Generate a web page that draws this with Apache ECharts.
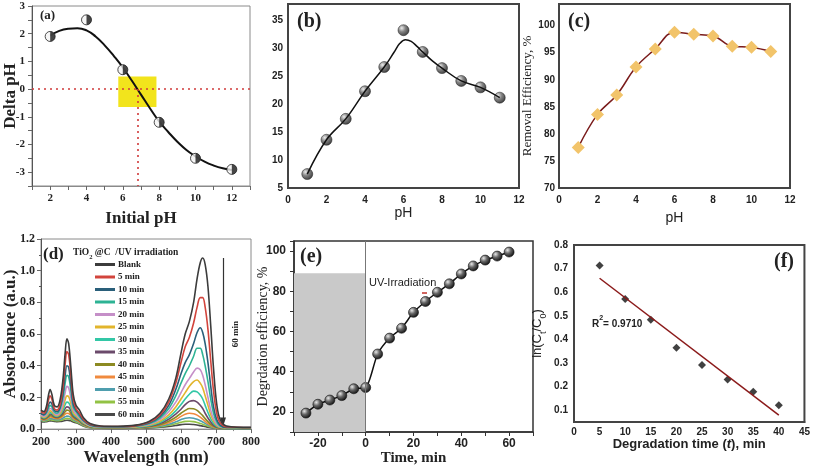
<!DOCTYPE html>
<html><head><meta charset="utf-8">
<script src="https://cdn.jsdelivr.net/npm/echarts@6/dist/echarts.min.js"></script>
<style>html,body{margin:0;padding:0;background:#fff}#c{width:813px;height:467px}</style>
</head><body><div id="c"></div>
<script>
// ---------- Panel (a): Delta pH vs initial pH ----------
const aX = [2, 4, 6, 8, 10, 12];
const aY = [1.9, 2.5, 0.7, -1.2, -2.5, -2.9];
const aFitX = [2, 2.5, 3, 3.5, 4, 4.5, 5, 5.5, 6, 6.5, 7, 7.5, 8, 8.5, 9, 9.5, 10, 10.5, 11, 11.5, 12];
const aFitY = [1.93, 2.1, 2.18, 2.2, 2.12, 1.9, 1.58, 1.2, 0.78, 0.3, -0.2, -0.7, -1.17, -1.55, -1.9, -2.2, -2.43, -2.62, -2.76, -2.86, -2.92];
const aPzc = 6.8;
const aBox = [5.75, 0.45, 7.85, -0.65];
const aYTicks = [-3, -2, -1, 0, 1, 2, 3];
const aXTicks = [2, 4, 6, 8, 10, 12];

// ---------- Panel (b) ----------
const bX = [1, 2, 3, 4, 5, 6, 7, 8, 9, 10, 11];
const bY = [7.5, 13.65, 17.4, 22.35, 26.7, 33.3, 29.4, 26.5, 24.2, 23.05, 21.2];
const bFitX = [1, 2, 3, 4, 5, 5.5, 5.8, 6.1, 6.4, 6.7, 7, 7.5, 8, 9, 10, 11];
const bFitY = [7.5, 13.65, 17.4, 22.35, 26.7, 29.3, 30.9, 31.6, 31.3, 30.4, 29.4, 27.8, 26.5, 24.2, 23.05, 21.2];
const bYTicks = [5, 10, 15, 20, 25, 30, 35];

// ---------- Panel (c) ----------
const cX = [1, 2, 3, 4, 5, 6, 7, 8, 9, 10, 11];
const cY = [77.5, 83.6, 87.2, 92.35, 95.7, 98.8, 98.4, 98.1, 96.2, 96.0, 95.2];
const cYTicks = [70, 75, 80, 85, 90, 95, 100];

// ---------- Panel (d): UV-vis spectra ----------
const dWl = [200, 208, 215, 221, 226, 231, 238, 246, 255, 263, 269, 274, 279, 285, 292, 300, 310, 322, 340, 370, 420, 470, 510, 540, 565, 585, 600, 612, 624, 636, 646, 655, 662, 669, 677, 685, 693, 702, 712, 730, 800];
const dNames = ['Blank', '5 min', '10 min', '15 min', '20 min', '25 min', '30 min', '35 min', '40 min', '45 min', '50 min', '55 min', '60 min'];
const dBlank = [0.12, 0.11, 0.14, 0.21, 0.25, 0.22, 0.15, 0.14, 0.19, 0.32, 0.48, 0.57, 0.54, 0.4, 0.22, 0.15, 0.12, 0.07, 0.035, 0.02, 0.018, 0.025, 0.05, 0.1, 0.19, 0.32, 0.48, 0.6, 0.68, 0.8, 0.95, 1.05, 1.08, 1.04, 0.9, 0.65, 0.38, 0.16, 0.06, 0.02, 0.01];
const d5 = [0.11, 0.1, 0.12, 0.18, 0.21, 0.19, 0.13, 0.12, 0.16, 0.27, 0.41, 0.49, 0.47, 0.35, 0.19, 0.13, 0.1, 0.06, 0.03, 0.018, 0.016, 0.022, 0.045, 0.09, 0.17, 0.29, 0.42, 0.52, 0.58, 0.67, 0.77, 0.83, 0.83, 0.77, 0.63, 0.43, 0.24, 0.1, 0.04, 0.015, 0.01];
const d10 = [0.1, 0.09, 0.11, 0.15, 0.17, 0.16, 0.12, 0.11, 0.14, 0.23, 0.34, 0.4, 0.39, 0.29, 0.16, 0.12, 0.09, 0.055, 0.028, 0.016, 0.015, 0.02, 0.04, 0.08, 0.15, 0.25, 0.35, 0.42, 0.47, 0.54, 0.61, 0.64, 0.61, 0.54, 0.42, 0.27, 0.14, 0.06, 0.025, 0.01, 0.01];
const d15 = [0.1, 0.09, 0.1, 0.13, 0.15, 0.14, 0.11, 0.1, 0.13, 0.2, 0.29, 0.34, 0.33, 0.25, 0.14, 0.11, 0.08, 0.05, 0.025, 0.015, 0.014, 0.018, 0.035, 0.07, 0.13, 0.21, 0.29, 0.35, 0.4, 0.46, 0.51, 0.51, 0.47, 0.4, 0.3, 0.19, 0.1, 0.045, 0.02, 0.01, 0.01];
const d20 = [0.09, 0.08, 0.09, 0.115, 0.13, 0.125, 0.1, 0.09, 0.11, 0.16, 0.23, 0.27, 0.26, 0.2, 0.12, 0.095, 0.07, 0.045, 0.022, 0.013, 0.012, 0.016, 0.03, 0.06, 0.11, 0.17, 0.23, 0.28, 0.32, 0.36, 0.385, 0.375, 0.34, 0.28, 0.2, 0.12, 0.065, 0.03, 0.015, 0.01, 0.01];
const d25 = [0.085, 0.075, 0.082, 0.1, 0.115, 0.11, 0.092, 0.085, 0.1, 0.14, 0.185, 0.21, 0.205, 0.165, 0.105, 0.085, 0.065, 0.04, 0.02, 0.012, 0.011, 0.014, 0.026, 0.05, 0.09, 0.14, 0.19, 0.23, 0.27, 0.3, 0.31, 0.29, 0.26, 0.21, 0.15, 0.09, 0.05, 0.025, 0.012, 0.008, 0.008];
const d30 = [0.08, 0.07, 0.077, 0.092, 0.105, 0.1, 0.086, 0.08, 0.092, 0.12, 0.155, 0.17, 0.167, 0.14, 0.095, 0.078, 0.06, 0.036, 0.018, 0.011, 0.01, 0.012, 0.022, 0.042, 0.075, 0.115, 0.155, 0.19, 0.22, 0.24, 0.235, 0.215, 0.19, 0.15, 0.105, 0.065, 0.035, 0.018, 0.01, 0.007, 0.007];
const d35 = [0.075, 0.066, 0.072, 0.085, 0.095, 0.092, 0.08, 0.075, 0.085, 0.105, 0.13, 0.14, 0.138, 0.118, 0.085, 0.07, 0.055, 0.033, 0.016, 0.01, 0.009, 0.011, 0.019, 0.035, 0.062, 0.095, 0.125, 0.155, 0.175, 0.18, 0.17, 0.15, 0.13, 0.1, 0.07, 0.045, 0.025, 0.013, 0.008, 0.006, 0.006];
const d40 = [0.07, 0.062, 0.067, 0.077, 0.085, 0.083, 0.074, 0.07, 0.077, 0.093, 0.11, 0.12, 0.118, 0.1, 0.076, 0.063, 0.05, 0.03, 0.015, 0.009, 0.008, 0.01, 0.016, 0.028, 0.05, 0.075, 0.1, 0.118, 0.13, 0.128, 0.118, 0.1, 0.085, 0.066, 0.047, 0.03, 0.018, 0.01, 0.007, 0.005, 0.005];
const d45 = [0.065, 0.058, 0.062, 0.07, 0.076, 0.075, 0.068, 0.065, 0.07, 0.082, 0.094, 0.1, 0.099, 0.088, 0.068, 0.057, 0.045, 0.027, 0.013, 0.008, 0.007, 0.009, 0.014, 0.024, 0.04, 0.06, 0.08, 0.094, 0.1, 0.097, 0.088, 0.075, 0.063, 0.049, 0.035, 0.023, 0.014, 0.008, 0.006, 0.005, 0.005];
const d50 = [0.06, 0.053, 0.057, 0.063, 0.067, 0.066, 0.061, 0.059, 0.062, 0.07, 0.078, 0.082, 0.081, 0.074, 0.06, 0.051, 0.04, 0.024, 0.012, 0.007, 0.006, 0.008, 0.012, 0.019, 0.031, 0.046, 0.06, 0.069, 0.072, 0.069, 0.062, 0.053, 0.045, 0.036, 0.027, 0.018, 0.011, 0.007, 0.005, 0.004, 0.004];
const d55 = [0.055, 0.049, 0.052, 0.056, 0.059, 0.058, 0.055, 0.053, 0.055, 0.06, 0.065, 0.068, 0.067, 0.062, 0.052, 0.045, 0.035, 0.021, 0.01, 0.006, 0.005, 0.007, 0.01, 0.015, 0.024, 0.034, 0.043, 0.049, 0.05, 0.047, 0.042, 0.036, 0.031, 0.025, 0.019, 0.013, 0.009, 0.006, 0.004, 0.004, 0.004];
const d60 = [0.05, 0.045, 0.047, 0.05, 0.052, 0.051, 0.049, 0.047, 0.048, 0.051, 0.054, 0.056, 0.055, 0.052, 0.045, 0.04, 0.031, 0.018, 0.009, 0.005, 0.004, 0.006, 0.008, 0.012, 0.017, 0.023, 0.028, 0.031, 0.031, 0.029, 0.026, 0.022, 0.019, 0.016, 0.012, 0.009, 0.007, 0.005, 0.004, 0.003, 0.003];
const dSpectra = [dBlank, d5, d10, d15, d20, d25, d30, d35, d40, d45, d50, d55, d60];
const dColors = ['#3c3c3c', '#d2443c', '#2a5f7a', '#2db394', '#c58fc8', '#e2b52c', '#33c7a6', '#6b4a6b', '#8c8a22', '#f08a3e', '#4f9eae', '#92c244', '#4a4a4a'];
const dYTicks = [0, 0.2, 0.4, 0.6, 0.8, 1.0, 1.2];

// ---------- Panel (e): degradation efficiency vs time ----------
const eX = [-25, -20, -15, -10, -5, 0, 5, 10, 15, 20, 25, 30, 35, 40, 45, 50, 55, 60];
const eY = [19.4, 23.8, 25.9, 28.1, 31.5, 32.1, 48.8, 56.7, 61.6, 69.5, 74.9, 79.5, 83.7, 88.6, 92.6, 95.5, 97.5, 99.5];
const eXTicks = [-20, 0, 20, 40, 60];
const eYTicks = [20, 40, 60, 80, 100];

// ---------- Panel (f): kinetics ----------
const fX = [5, 10, 15, 20, 25, 30, 35, 40];
const fY = [0.713, 0.571, 0.483, 0.365, 0.292, 0.23, 0.178, 0.121];
const fFit = [[5, 0.659], [40, 0.079]];
const fYTicks = [0.1, 0.2, 0.3, 0.4, 0.5, 0.6, 0.7, 0.8];

const SERIF = 'Liberation Serif';
const SANS = 'Liberation Sans';
const zip = (xs, ys) => xs.map((x, i) => [x, ys[i]]);
const sphere = {type: 'radial', x: 0.35, y: 0.32, r: 0.7, colorStops: [{offset: 0, color: '#e8e8e8'}, {offset: 0.45, color: '#666'}, {offset: 1, color: '#111'}]};

function frame(c, w) { return {show: true, borderColor: c, borderWidth: w, backgroundColor: 'transparent'}; }

const grids = [
  Object.assign({left: 32, top: 6, width: 218, height: 180}, frame('#8a8a8a', 1)),
  Object.assign({left: 288, top: 4, width: 231, height: 184}, frame('#444', 2)),
  Object.assign({left: 559, top: 4, width: 231, height: 184}, frame('#444', 2)),
  Object.assign({left: 41, top: 239, width: 210, height: 191}, frame('#8a8a8a', 1)),
  Object.assign({left: 294, top: 241, width: 239, height: 191}, frame('#333', 1.5)),
  Object.assign({left: 574, top: 245, width: 232, height: 177}, frame('#444', 2))
];

function axisBase(grid, color, lw) {
  return {gridIndex: grid, splitLine: {show: false}, axisLine: {show: true, onZero: false, lineStyle: {color: color, width: lw}}};
}

const lblOpts = {hideOverlap: false, showMinLabel: true, showMaxLabel: true};
const serifLbl = (s) => Object.assign({fontFamily: SERIF, fontWeight: 'bold', fontSize: s, color: '#222'}, lblOpts);
const sansLbl = (s) => Object.assign({fontFamily: SANS, fontWeight: 'bold', fontSize: s, color: '#222'}, lblOpts);
const nameStyle = (fam, w, s) => ({fontFamily: fam, fontWeight: w, fontSize: s, color: '#222'});

const xAxes = [
  Object.assign(axisBase(0, '#8a8a8a', 1), {type: 'value', min: 1, max: 13, interval: 1,
    axisTick: {show: true, length: 4, lineStyle: {color: '#666'}},
    axisLabel: Object.assign(serifLbl(11), {margin: 7, customValues: aXTicks}),
    name: 'Initial pH', nameLocation: 'middle', nameGap: 24, nameTextStyle: nameStyle(SERIF, 'bold', 17)}),
  Object.assign(axisBase(1, '#444', 2), {type: 'value', min: 0, max: 12, interval: 2,
    axisTick: {show: false}, axisLabel: Object.assign(sansLbl(10), {margin: 7}),
    name: 'pH', nameLocation: 'middle', nameGap: 18, nameTextStyle: nameStyle(SANS, 'normal', 14)}),
  Object.assign(axisBase(2, '#444', 2), {type: 'value', min: 0, max: 12, interval: 2,
    axisTick: {show: false}, axisLabel: Object.assign(sansLbl(10), {margin: 7}),
    name: 'pH', nameLocation: 'middle', nameGap: 23, nameTextStyle: nameStyle(SANS, 'normal', 14)}),
  Object.assign(axisBase(3, '#8a8a8a', 1), {type: 'value', min: 200, max: 800, interval: 100,
    axisTick: {show: true, length: 4, lineStyle: {color: '#666'}}, minorTick: {show: true, splitNumber: 2, length: 2},
    axisLabel: Object.assign(serifLbl(12), {margin: 7}),
    name: 'Wavelength (nm)', nameLocation: 'middle', nameGap: 18, nameTextStyle: nameStyle(SERIF, 'bold', 17)}),
  Object.assign(axisBase(4, '#333', 1.5), {type: 'value', min: -30, max: 70, interval: 10,
    axisTick: {show: true, length: 4, lineStyle: {color: '#333'}},
    axisLabel: Object.assign(sansLbl(12), {margin: 6, customValues: eXTicks}),
    name: 'Time, min', nameLocation: 'middle', nameGap: 18, nameTextStyle: nameStyle(SERIF, 'bold', 15)}),
  Object.assign(axisBase(5, '#444', 2), {type: 'value', min: 0, max: 45, interval: 5,
    axisTick: {show: false}, axisLabel: Object.assign(sansLbl(10), {margin: 5}),
    name: 'Degradation time ({i|t}), min', nameLocation: 'middle', nameGap: 16,
    nameTextStyle: Object.assign(nameStyle(SANS, 'bold', 13), {rich: {i: {fontFamily: SANS, fontWeight: 'bold', fontStyle: 'italic', fontSize: 13, color: '#222'}}})})
];

// y-axis tick labels of panels a, b, d and e are placed from the axes' own scale (convertToPixel) after the first layout
const yAxes = [
  Object.assign(axisBase(0, '#555', 1), {type: 'value', min: -3.5, max: 3, interval: 0.5,
    axisTick: {show: true, length: 4, lineStyle: {color: '#666'}}, axisLabel: {show: false},
    name: 'Delta pH', nameLocation: 'middle', nameGap: 13, nameTextStyle: nameStyle(SERIF, 'bold', 17)}),
  Object.assign(axisBase(1, '#444', 2), {type: 'value', min: 5, max: 38,
    axisTick: {show: false}, axisLabel: {show: false}}),
  Object.assign(axisBase(2, '#444', 2), {type: 'value', min: 70, max: 104,
    axisTick: {show: false}, axisLabel: Object.assign(sansLbl(10), {margin: 4, customValues: cYTicks}),
    name: 'Removal Efficiency, %', nameLocation: 'middle', nameGap: 25, nameTextStyle: nameStyle(SERIF, 'normal', 13)}),
  Object.assign(axisBase(3, '#555', 1), {type: 'value', min: 0, max: 1.2, interval: 0.2,
    axisTick: {show: true, length: 4, lineStyle: {color: '#666'}}, minorTick: {show: true, splitNumber: 2, length: 2},
    axisLabel: {show: false},
    name: 'Absorbance (a.u.)', nameLocation: 'middle', nameGap: 22, nameTextStyle: nameStyle(SERIF, 'bold', 17)}),
  Object.assign(axisBase(4, '#333', 1.5), {type: 'value', min: 10, max: 105, interval: 10,
    axisTick: {show: true, length: 4, lineStyle: {color: '#333'}}, axisLabel: {show: false},
    name: 'Degrdation efficiency, %', nameLocation: 'middle', nameGap: 24, nameTextStyle: nameStyle(SERIF, 'normal', 14)}),
  Object.assign(axisBase(5, '#444', 2), {type: 'value', min: 0.05, max: 0.8,
    axisTick: {show: false},
    axisLabel: Object.assign(sansLbl(10), {margin: 6, customValues: fYTicks, formatter: v => v.toFixed(1)}),
    name: 'ln(C{s|t}/C{s|0})', nameLocation: 'middle', nameGap: 30,
    nameTextStyle: {fontFamily: SANS, fontSize: 13, color: '#222', rich: {s: {fontFamily: SANS, fontSize: 9, color: '#222', verticalAlign: 'bottom', padding: [0, 0, -4, 0]}}}})
];

const series = [];
// (a)
series.push({type: 'line', xAxisIndex: 0, yAxisIndex: 0, data: [], z: 1, silent: true,
  markLine: {silent: true, symbol: 'none', label: {show: false}, animation: false,
    lineStyle: {color: '#d03a3a', type: [2, 4], width: 1.6},
    data: [[{coord: [1, 0]}, {coord: [13, 0]}], [{coord: [aPzc, 0]}, {coord: [aPzc, -3.5]}]]}});
series.push({type: 'line', xAxisIndex: 0, yAxisIndex: 0, data: [], z: 2, silent: true,
  markArea: {silent: true, animation: false, itemStyle: {color: '#f2e41c', opacity: 1},
    data: [[{coord: [aBox[0], aBox[1]]}, {coord: [aBox[2], aBox[3]]}]]}});
series.push({type: 'line', xAxisIndex: 0, yAxisIndex: 0, z: 3, data: zip(aFitX, aFitY), smooth: 0.5,
  showSymbol: false, lineStyle: {color: '#111', width: 2}});
series.push({type: 'scatter', xAxisIndex: 0, yAxisIndex: 0, z: 4, data: zip(aX, aY), symbol: 'circle', symbolSize: 10,
  itemStyle: {color: '#f4f4f4', borderColor: '#222', borderWidth: 1}});
series.push({type: 'scatter', xAxisIndex: 0, yAxisIndex: 0, z: 5, data: zip(aX, aY), symbol: 'path://M0,0A10,10,0,0,1,0,20Z',
  symbolSize: [5, 10], symbolOffset: [2.5, 0], itemStyle: {color: '#1a1a1a'}});
// (b)
series.push({type: 'line', xAxisIndex: 1, yAxisIndex: 1, data: zip(bFitX, bFitY), smooth: 0.4, showSymbol: false,
  lineStyle: {color: '#111', width: 1.5}});
series.push({type: 'scatter', xAxisIndex: 1, yAxisIndex: 1, data: zip(bX, bY), symbolSize: 11,
  itemStyle: {color: sphere, borderColor: '#111', borderWidth: 0.6}});
// (c)
series.push({type: 'line', xAxisIndex: 2, yAxisIndex: 2, data: zip(cX, cY), smooth: 0.4, symbol: 'diamond', symbolSize: 13,
  lineStyle: {color: '#7a1c1c', width: 1.5}, itemStyle: {color: '#f2c46a', borderWidth: 0}});
// (d)
dSpectra.forEach((arr, i) => {
  series.push({type: 'line', name: dNames[i], xAxisIndex: 3, yAxisIndex: 3, data: zip(dWl, arr), smooth: 0.35,
    symbol: 'none', lineStyle: {color: dColors[i], width: 1.6}, itemStyle: {color: dColors[i]}, z: 20 - i});
});
series.push({type: 'line', xAxisIndex: 3, yAxisIndex: 3, data: [], silent: true,
  markLine: {silent: true, animation: false, symbol: ['none', 'triangle'], symbolSize: [6, 9], label: {show: false},
    lineStyle: {color: '#333', width: 1.2, type: 'solid'},
    data: [[{coord: [720, 1.08]}, {coord: [720, 0.045]}]]}});
// (e)
series.push({type: 'line', xAxisIndex: 4, yAxisIndex: 4, data: [], z: 1, silent: true,
  markArea: {silent: true, animation: false, itemStyle: {color: '#c9c9c9', opacity: 1},
    data: [[{coord: [-30, 10]}, {coord: [0, 89]}]]},
  markLine: {silent: true, animation: false, symbol: 'none', label: {show: false},
    lineStyle: {color: '#777', width: 1, type: 'solid'}, data: [[{coord: [0, 10]}, {coord: [0, 105]}]]}});
series.push({type: 'line', xAxisIndex: 4, yAxisIndex: 4, z: 3, data: zip(eX, eY), smooth: 0.25, symbolSize: 10, symbol: 'circle',
  lineStyle: {color: '#111', width: 1.5}, itemStyle: {color: sphere, borderColor: '#111', borderWidth: 0.6}});
// (f)
series.push({type: 'line', xAxisIndex: 5, yAxisIndex: 5, data: fFit, showSymbol: false, lineStyle: {color: '#8b1a1a', width: 1.5}});
series.push({type: 'scatter', xAxisIndex: 5, yAxisIndex: 5, data: zip(fX, fY), symbol: 'diamond', symbolSize: 8,
  itemStyle: {color: '#111'}});

const graphics = [
  {type: 'text', left: 40, top: 9, style: {text: '(a)', font: 'bold 13px "Liberation Serif"', fill: '#222'}},
  {type: 'text', left: 297, top: 12, style: {text: '(b)', font: 'bold 20px "Liberation Serif"', fill: '#222'}},
  {type: 'text', left: 568, top: 12, style: {text: '(c)', font: 'bold 20px "Liberation Serif"', fill: '#222'}},
  {type: 'text', left: 43, top: 246, style: {text: '(d)', font: 'bold 17px "Liberation Serif"', fill: '#222'}},
  {type: 'text', left: 300, top: 247, style: {text: '(e)', font: 'bold 20px "Liberation Serif"', fill: '#222'}},
  {type: 'text', left: 774, top: 252, style: {text: '(f)', font: 'bold 20px "Liberation Serif"', fill: '#222'}},
  {type: 'text', left: 73, top: 248, style: {rich: {n: {fontFamily: SERIF, fontWeight: 'bold', fontSize: 9.5, fill: '#222'}, s: {fontFamily: SERIF, fontWeight: 'bold', fontSize: 6.5, fill: '#222', verticalAlign: 'bottom', padding: [0, 0, -3, 0]}},
    text: '{n|TiO}{s|2}{n| @C  /UV irradiation}'}},
  {type: 'text', x: 236, y: 334, rotation: Math.PI / 2, style: {text: '60 min', font: 'bold 9px "Liberation Serif"', fill: '#222', align: 'center', verticalAlign: 'middle'}},
  {type: 'text', left: 326, top: 299, style: {text: 'In dark', font: '11px "Liberation Sans"', fill: '#222'}},
  {type: 'text', left: 369, top: 277, style: {text: 'UV-Irradiation', font: '11px "Liberation Sans"', fill: '#222'}},
  {type: 'line', shape: {x1: 422, y1: 293, x2: 427, y2: 293}, style: {stroke: '#c0302a', lineWidth: 1.5}},
  {type: 'text', left: 592, top: 315, style: {rich: {n: {fontFamily: SANS, fontWeight: 'bold', fontSize: 10, fill: '#222'}, s: {fontFamily: SANS, fontWeight: 'bold', fontSize: 7, fill: '#222', verticalAlign: 'top', padding: [-4, 0, 0, 0]}},
    text: '{n|R}{s|2}{n|= 0.9710}'}}
];

const chart = echarts.init(document.getElementById('c'), null, {renderer: 'canvas'});
chart.setOption({
  animation: false,
  backgroundColor: '#fff',
  grid: grids,
  xAxis: xAxes,
  yAxis: yAxes,
  legend: {data: dNames, orient: 'vertical', left: 95, top: 260, itemWidth: 20, itemHeight: 3, itemGap: 3.5, icon: 'rect',
    selectedMode: false, padding: 0,
    textStyle: {fontFamily: SERIF, fontWeight: 'bold', fontSize: 9, color: '#222', padding: [0, 0, 0, -2]}},
  series: series
});

// tick labels positioned through each axis's scale
function yTickLabels(gi, vals, gap, font, fmt) {
  const xMin = xAxes[gi].min;
  return vals.map(v => {
    const p = chart.convertToPixel({gridIndex: gi}, [xMin, v]);
    return {type: 'text', x: p[0] - gap, y: p[1], silent: true,
      style: {text: fmt(v), font: font, fill: '#222', align: 'right', verticalAlign: 'middle'}};
  });
}
const tickGraphics = []
  .concat(yTickLabels(0, aYTicks, 7, 'bold 11px "Liberation Serif"', v => String(v)))
  .concat(yTickLabels(1, bYTicks, 5, 'bold 10px "Liberation Sans"', v => String(v)))
  .concat(yTickLabels(3, dYTicks, 6, 'bold 12px "Liberation Serif"', v => v.toFixed(1)))
  .concat(yTickLabels(4, eYTicks, 8, 'bold 12px "Liberation Sans"', v => String(v)));
chart.setOption({graphic: graphics.concat(tickGraphics)});
</script></body></html>
